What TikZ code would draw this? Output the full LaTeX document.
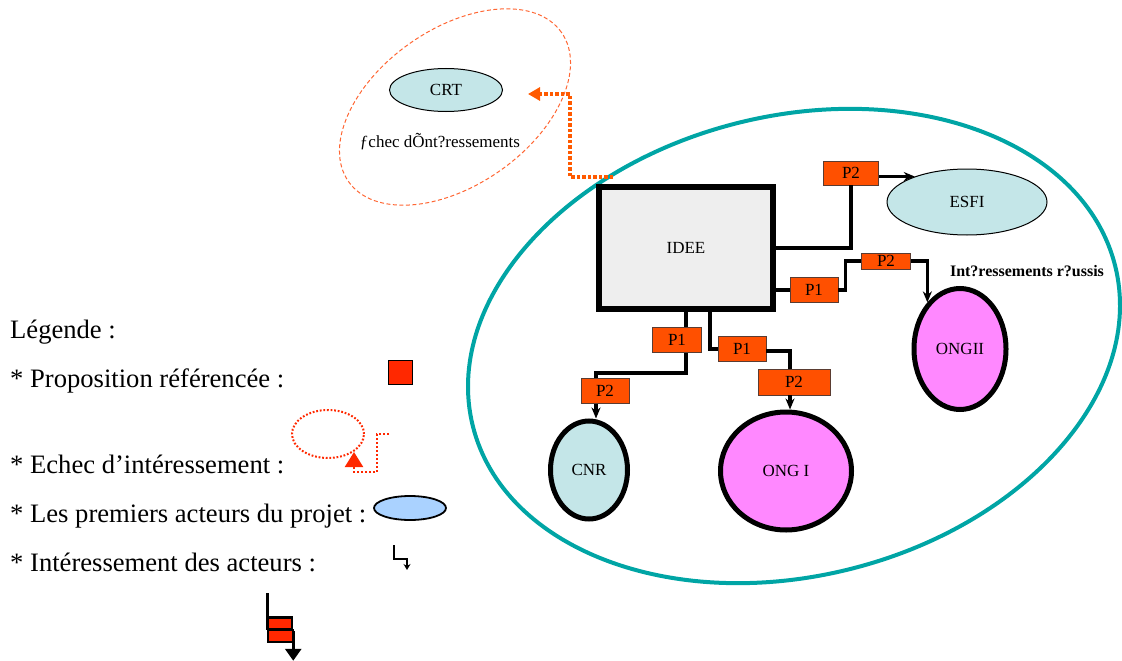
\documentclass[tikz,border=0pt]{standalone}
\usepackage{fontspec}
\setmainfont{Liberation Serif}
\usetikzlibrary{arrows.meta,shapes.geometric}
\definecolor{tealc}{RGB}{0,165,165}
\definecolor{porange}{RGB}{255,80,0}
\definecolor{pborder}{RGB}{90,60,50}
\definecolor{lblue}{RGB}{196,230,232}
\definecolor{magc}{RGB}{255,136,255}
\definecolor{ideegray}{RGB}{238,238,238}
\definecolor{dashor}{RGB}{255,102,51}
\definecolor{dotor}{RGB}{255,90,0}
\definecolor{legred}{RGB}{255,40,0}
\definecolor{legblue}{RGB}{170,210,255}
\begin{document}
\begin{tikzpicture}[x=1pt,y=-1pt,
  lab/.style={font=\fontsize{17}{20}\selectfont},
  legtext/.style={font=\fontsize{26.6}{31}\selectfont, anchor=base west, inner sep=0pt},
  pbox/.style={draw=pborder, line width=0.8pt, fill=porange, minimum width=#1,
    minimum height=25pt, inner sep=0pt, font=\fontsize{17}{20}\selectfont},
  actor/.style={ellipse, inner sep=0pt, font=\fontsize{17}{20}\selectfont},
  thickactor/.style={actor, draw=black, line width=5pt},
  conn/.style={draw=black, line width=3.2pt},
  tipc/.style={-{Stealth[length=11pt,width=9pt]}}]
\useasboundingbox (0,0) rectangle (1122,661);

% big teal ellipse
\draw[tealc, line width=4pt, rotate around={14:(794,346)}] (794,346) ellipse [x radius=331pt, y radius=230pt];
% orange dashed ellipse
\draw[dashor, line width=1pt, dash pattern=on 4pt off 2.5pt, rotate around={35:(455,107)}] (455,107) ellipse [x radius=130pt, y radius=78pt];

% CRT group
\node[actor, draw=black, line width=1pt, fill=lblue, minimum width=113pt, minimum height=43pt] (crt) at (446,90) {CRT};
\node[lab] (echec) at (440,142) {ƒchec dÕnt?ressements};
\coordinate (fa) at (613,177);
\draw[dotor, line width=4.5pt, dash pattern=on 3.5pt off 2pt, -{Triangle[length=12pt,width=13pt]}]
  (fa) -- ++(-43,0) |- ([xshift=25pt,yshift=-4pt]crt.east);

% main nodes
\node[draw=black, line width=6pt, fill=ideegray, minimum width=174pt, minimum height=122pt, lab] (idee) at (686,248) {IDEE};
\node[actor, draw=black, line width=1pt, fill=lblue, minimum width=160pt, minimum height=66pt] (esfi) at (967,202) {ESFI};
\node[thickactor, fill=magc, minimum width=92pt, minimum height=121pt] (ongii) at (960,349) {ONGII};
\node[thickactor, fill=magc, minimum width=131pt, minimum height=118pt] (ongi) at (786,471) {ONG I};
\node[thickactor, fill=lblue, minimum width=77pt, minimum height=98pt] (cnr) at (589,470) {CNR};
\node[font=\bfseries\fontsize{16}{19}\selectfont] (reussis) at (1027,271) {Int?ressements r?ussis};

% proposition boxes
\node[pbox=55pt, minimum height=24pt] (p2a) at (851,173) {P2};
\node[pbox=48pt] (p1a) at (814,290) {P1};
\node[pbox=49pt, minimum height=16pt] (p2b) at (886,261) {P2};
\node[pbox=49pt] (p1c) at (677,340) {P1};
\node[pbox=48pt] (p2c) at (605,391) {P2};
\node[pbox=48pt] (p1d) at (742,349) {P1};
\node[pbox=72pt, minimum height=26pt] (p2d) at (794,382) {P2};

% connectors
\draw[conn] (idee.east) -| (p2a.south);
\draw[conn, tipc] (p2a.east |- esfi.154) -- (esfi.154);
\draw[conn] (idee.east |- p1a.west) -- (p1a.west);
\draw[conn] (p1a.east) -- ++(7,0) |- (p2b.west);
\draw[conn, tipc] (p2b.east) -| (ongii.125);
\draw[conn] (idee.south) -- (idee.south |- p1c.north);
\coordinate (c1) at (596,373);
\draw[conn] (idee.south |- p1c.south) |- (c1) -- (c1 |- p2c.north);
\draw[conn, tipc] (c1 |- p2c.south) -- (c1 |- cnr.north);
\coordinate (c2) at (710,312);
\draw[conn] (c2) |- (p1d.west);
\coordinate (c3) at (790,351);
\draw[conn] (p1d.east |- c3) -| (c3 |- p2d.north);
\draw[conn, tipc] (c3 |- p2d.south) -- (c3 |- ongi.north);

% legend
\node[legtext] (leg0) at (10,338) {Légende :};
\node[legtext] (leg1) at (10,387) {* Proposition référencée :};
\node[legtext] (leg2) at (10,473) {* Echec d’intéressement :};
\node[legtext] (leg3) at (10,522) {* Les premiers acteurs du projet :};
\node[legtext] (leg4) at (10,571) {* Intéressement des acteurs :};

\node[draw=black, line width=1.5pt, fill=legred, minimum width=24pt, minimum height=24pt, inner sep=0pt] (lsq) at (400.5,372.5) {};
\draw[legred, line width=2pt, dash pattern=on 1.8pt off 1.8pt] (328,434) ellipse [x radius=36pt, y radius=24pt];
\coordinate (la) at (389,434);
\coordinate (lb) at (354,452);
\draw[legred, line width=2.2pt, dash pattern=on 2pt off 2pt, -{Triangle[length=15pt,width=18pt]}]
  (la) -- ++(-12,0) |- ++(-23,38) -- (lb);
\node[actor, draw=black, line width=1.8pt, fill=legblue, minimum width=72pt, minimum height=24pt] (lell) at (410,508) {};
\coordinate (lc) at (394,545);
\draw[black, line width=1.2pt, -{Stealth[length=6pt,width=7pt]}] (lc) |- ++(13,14) -- ++(0,11);
\coordinate (ld) at (267,593);
\draw[black, line width=3pt] (ld) -- ++(0,37);
\node[draw=black, line width=2.5pt, fill=legred, minimum width=24pt, minimum height=12pt, inner sep=0pt] (lr1) at (280,623.5) {};
\node[draw=black, line width=2.5pt, fill=legred, minimum width=25pt, minimum height=12pt, inner sep=0pt] (lr2) at (280.5,636) {};
\draw[black, line width=3pt, -{Triangle[length=12pt,width=16pt]}] (lr1.south east) -- ++(0,30);
\end{tikzpicture}
\end{document}
